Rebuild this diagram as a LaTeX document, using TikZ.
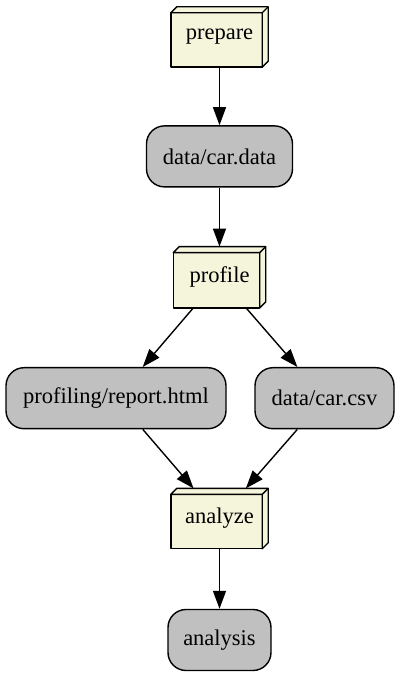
\documentclass[tikz,border=0pt]{standalone}
\usepackage{fontspec}
\setmainfont{Liberation Serif}
\usetikzlibrary{positioning,calc,arrows.meta,backgrounds}
\definecolor{taskfill}{HTML}{F5F5DC}
\definecolor{datafill}{HTML}{C0C0C0}
\tikzset{task/.style={draw=none,minimum width=97pt,minimum height=60pt,inner sep=0pt,font=\rmfamily\fontsize{22.5}{27}\selectfont},
         data/.style={draw,line width=1.4pt,fill=datafill,rounded corners=18pt,minimum height=61pt,inner sep=0pt,font=\rmfamily\fontsize{22.5}{27}\selectfont},
         face/.style={draw,line width=1.4pt,fill=taskfill,line join=round}
}
\tikzstyle{arrow} = [line width=1.4pt,-{Triangle[length=18pt,width=13pt]}]

\begin{document}
\begin{tikzpicture}
\useasboundingbox (0,0) rectangle (400pt,673pt);

\node[task] (prepare) at (219.5pt,636pt) {prepare};
\node[data,minimum width=146pt,below=58pt of prepare] (cardata) {data/car.data};
\node[task,minimum width=92pt,minimum height=61pt,below=59pt of cardata] (profile) {profile};
\node[data,minimum width=220pt,below=59pt of profile,xshift=-103.5pt] (report) {profiling/report.html};
\node[data,minimum width=139pt,below=59pt of profile,xshift=105pt] (carcsv) {data/car.csv};
\coordinate (join) at (report.south -| profile);
\node[task,below=59pt of join] (analyze) {analyze};
\node[data,minimum width=103pt,below=60pt of analyze] (analysis) {analysis};

% box3d faces behind the task labels
\begin{scope}[on background layer]
\foreach \t in {prepare,profile,analyze}{
  \draw[face] (\t.south west) rectangle ($(\t.north east)+(-6pt,-6pt)$);
  \draw[face] ($(\t.north west)+(0,-6pt)$) -- ($(\t.north west)+(6pt,0)$) -- (\t.north east) -- ($(\t.south east)+(0,6pt)$) -- ($(\t.south east)+(-6pt,0)$) -- ($(\t.north east)+(-6pt,-6pt)$) -- cycle;
  \draw[face] ($(\t.north east)+(-6pt,-6pt)$) -- (\t.north east);
}
\end{scope}

\draw[arrow] (prepare)--(cardata);
\draw[arrow] (cardata)--(profile);
\draw[arrow] (profile)--(report);
\draw[arrow] (profile)--(carcsv);
\draw[arrow] (report)--(analyze);
\draw[arrow] (carcsv)--(analyze);
\draw[arrow] (analyze)--(analysis);

\end{tikzpicture}
\end{document}
